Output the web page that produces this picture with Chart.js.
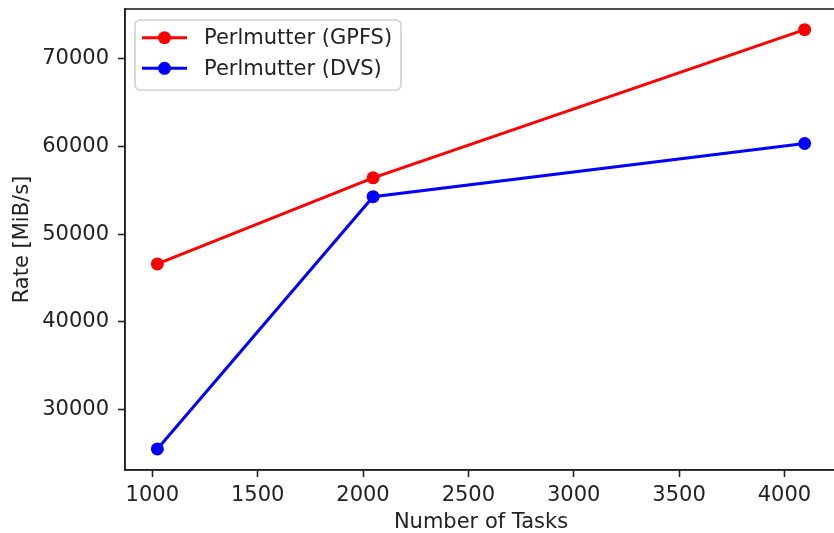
<!DOCTYPE html>
<html>
<head>
<meta charset="utf-8">
<script src="https://cdn.jsdelivr.net/npm/chart.js@4"></script>
<style>
html,body{margin:0;padding:0;background:#fff;overflow:hidden;}
#wrap{width:850px;height:533px;position:relative;}
</style>
</head>
<body>
<div id="wrap"><canvas id="c"></canvas></div>
<script>
const tasks = [1024, 2048, 4096];
const gpfs = [46600, 56400, 73250];
const dvs = [25550, 54250, 60300];
const xTicks = [1000, 1500, 2000, 2500, 3000, 3500, 4000];
const yTicks = [30000, 40000, 50000, 60000, 70000];

const INK = '#222';
const FONT = {family:"'DejaVu Sans',sans-serif", size:21, lineHeight:1.2};
const TITLE_FONT = {family:"'DejaVu Sans',sans-serif", size:21, lineHeight:1.0};

// matplotlib-like frame and legend box
const frame = {
  id:'frame',
  afterDraw(chart){
    const {ctx, chartArea:a} = chart;
    ctx.save();
    ctx.strokeStyle = INK; ctx.lineWidth = 1.6;
    ctx.strokeRect(a.left, a.top, a.right - a.left, a.bottom - a.top);

    // legend
    const bx = 135, by = 20, bw = 266, bh = 70, r = 5;
    ctx.beginPath();
    ctx.roundRect(bx, by, bw, bh, r);
    ctx.fillStyle = 'rgba(255,255,255,0.8)';
    ctx.fill();
    ctx.strokeStyle = '#d0d0d0'; ctx.lineWidth = 1.6;
    ctx.stroke();
    const rows = [37.7, 68.3];
    ctx.font = "21px 'DejaVu Sans',sans-serif";
    ctx.textBaseline = 'middle';
    chart.data.datasets.forEach((ds, i) => {
      const y = rows[i];
      ctx.strokeStyle = ds.borderColor; ctx.lineWidth = 3;
      ctx.beginPath(); ctx.moveTo(142, y); ctx.lineTo(187, y); ctx.stroke();
      ctx.fillStyle = ds.borderColor;
      ctx.beginPath(); ctx.arc(164.5, y, 6.5, 0, Math.PI*2); ctx.fill();
      ctx.fillStyle = INK;
      ctx.fillText(ds.label, 204, y + 1);
    });
    ctx.restore();
  }
};

new Chart(document.getElementById('c'), {
  type:'line',
  data:{
    datasets:[
      {label:'Perlmutter (GPFS)', data:tasks.map((t,i)=>({x:t, y:gpfs[i]})),
       borderColor:'#ff0000', backgroundColor:'#ff0000'},
      {label:'Perlmutter (DVS)', data:tasks.map((t,i)=>({x:t, y:dvs[i]})),
       borderColor:'#0000ff', backgroundColor:'#0000ff'}
    ]
  },
  options:{
    responsive:true, maintainAspectRatio:false, animation:false,
    layout:{padding:{top:9, right:13, left:0, bottom:0}},
    elements:{
      line:{borderWidth:3, tension:0},
      point:{radius:6.5, borderWidth:0, hoverRadius:6.5}
    },
    plugins:{legend:{display:false}, tooltip:{enabled:false}},
    scales:{
      x:{
        type:'linear', min:870.4, max:4249.6,
        afterBuildTicks:s=>{s.ticks = xTicks.map(v=>({value:v}));},
        afterFit:s=>{s.height = 63; s.paddingLeft = 0; s.paddingRight = 0;},
        grid:{drawOnChartArea:false, tickLength:7, tickWidth:1.6, tickColor:INK},
        border:{display:true, color:INK, width:1.6},
        ticks:{color:INK, font:FONT, padding:6, maxRotation:0, callback:v=>String(v)},
        title:{display:true, text:'Number of Tasks', color:INK, font:TITLE_FONT, padding:{top:0, bottom:0}}
      },
      y:{
        type:'linear', min:23156, max:75604,
        afterBuildTicks:s=>{s.ticks = yTicks.map(v=>({value:v}));},
        afterFit:s=>{s.width = 125; s.paddingTop = 0; s.paddingBottom = 0;},
        grid:{drawOnChartArea:false, tickLength:7, tickWidth:1.6, tickColor:INK},
        border:{display:true, color:INK, width:1.6},
        ticks:{color:INK, font:FONT, padding:9, callback:v=>String(v)},
        title:{display:true, text:'Rate [MiB/s]', color:INK, font:FONT, padding:{top:10, bottom:0}}
      }
    }
  },
  plugins:[frame]
});
</script>
</body>
</html>
